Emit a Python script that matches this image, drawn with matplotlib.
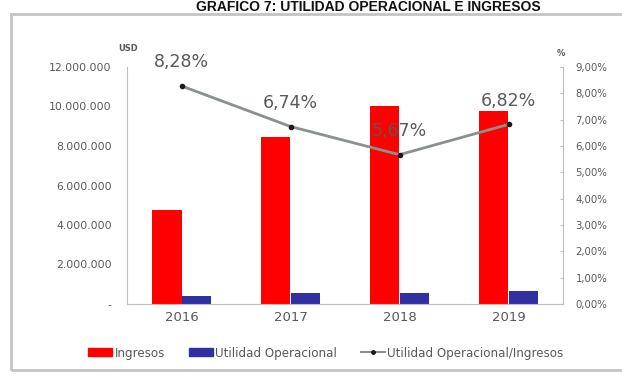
import numpy as np
import matplotlib.pyplot as plt
from matplotlib.patches import Rectangle, Patch
from matplotlib.lines import Line2D
from matplotlib.ticker import FuncFormatter

years = ['2016', '2017', '2018', '2019']
ingresos = [4750000, 8480000, 10000000, 9750000]
margen = [8.28, 6.74, 5.67, 6.82]  # utilidad operacional / ingresos, %
utilidad = [i * m / 100 for i, m in zip(ingresos, margen)]

red = '#ff0000'
blue = '#3030a2'
gris_linea = '#8a918a'
txt = '#595959'

fig = plt.figure(figsize=(6.22, 3.81), dpi=100)
fig.patch.set_facecolor('white')

# frame around the chart
fig.patches.append(Rectangle((11 / 622, 1 - 370 / 381), 620 / 622, 356 / 381,
                             transform=fig.transFigure, fill=False,
                             edgecolor='#c4c4c4', lw=2.0))
fig.text(368 / 622, 1 - 11 / 381, 'GRAFICO 7: UTILIDAD OPERACIONAL E INGRESOS',
         ha='center', va='baseline', fontsize=10, fontweight='bold',
         family='Liberation Sans', color='#111111')

ax = fig.add_axes([127 / 622, 1 - 304 / 381, 436 / 622, 237 / 381])
x = np.arange(len(years))
w = 0.275
ax.bar(x - w / 2, ingresos, w, color=red)
ax.bar(x + w / 2, utilidad, w, color=blue)
ax.set_xlim(-0.5, 3.5)
ax.set_ylim(0, 12000000)
ax.set_yticks(np.arange(0, 12000001, 2000000))


def miles(v, pos):
    if v == 0:
        return '-'
    return f'{int(v):,}'.replace(',', '.')


ax.yaxis.set_major_formatter(FuncFormatter(miles))
ax.set_xticks(x)
ax.set_xticklabels(years)
ax.tick_params(axis='x', length=0, labelsize=9.5, colors=txt, pad=5)
ax.tick_params(axis='y', length=0, labelsize=7.8, colors=txt, pad=11)
for s in ['top', 'right']:
    ax.spines[s].set_visible(False)
ax.spines['left'].set_color('#bfbfbf')
ax.spines['bottom'].set_color('#bfbfbf')
ax.text(-0.02, 1.06, 'USD', transform=ax.transAxes, fontsize=6,
        fontweight='bold', color=txt, ha='left', va='bottom')

ax2 = ax.twinx()
ax2.plot(x, margen, color=gris_linea, lw=2, marker='o', markersize=3,
         markerfacecolor='#1a1a1a', markeredgecolor='#1a1a1a')
ax2.set_ylim(0, 9)
ax2.set_yticks(np.arange(0, 10, 1))
ax2.yaxis.set_major_formatter(FuncFormatter(lambda v, p: f'{v:.2f}%'.replace('.', ',')))
ax2.tick_params(axis='y', direction='in', length=2, color='#bfbfbf',
                labelsize=7.3, colors=txt, pad=9)
for s in ['top', 'left', 'bottom']:
    ax2.spines[s].set_visible(False)
ax2.spines['right'].set_color('#bfbfbf')
ax2.text(0.995, 1.04, '%', transform=ax2.transAxes, fontsize=6,
         fontweight='bold', color=txt, ha='center', va='bottom')
for xi, m in zip(x, margen):
    ax2.annotate(f'{m:.2f}%'.replace('.', ','), (xi, m), xytext=(0, 17),
                 textcoords='offset points', ha='center', va='center',
                 fontsize=12.5, color=txt)

handles = [Patch(color=red, label='Ingresos'),
           Patch(color=blue, label='Utilidad Operacional'),
           Line2D([], [], color=gris_linea, lw=1.5, marker='o', markersize=2.5,
                  markerfacecolor='#1a1a1a', markeredgecolor='#1a1a1a',
                  label='Utilidad Operacional/Ingresos')]
leg = fig.legend(handles=handles, loc='center', ncol=3,
                 bbox_to_anchor=(326 / 622, 1 - 353 / 381), frameon=False,
                 fontsize=8.6, handlelength=2.0, handleheight=0.6,
                 columnspacing=2.0, handletextpad=0.2)
for t in leg.get_texts():
    t.set_color(txt)

fig.savefig('out.png', dpi=100)
